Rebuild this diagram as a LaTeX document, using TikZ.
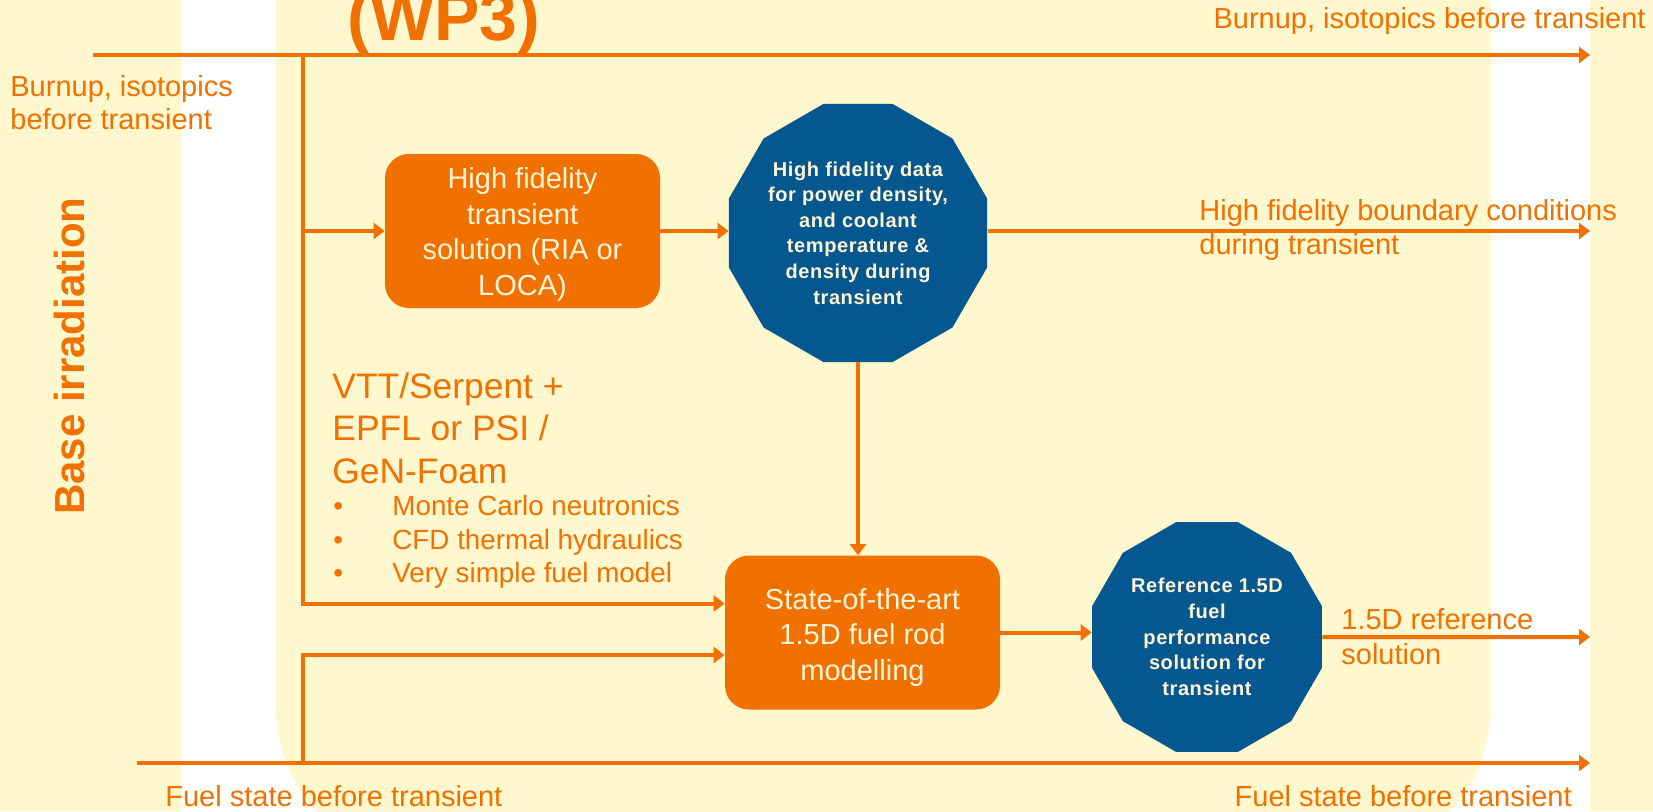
\documentclass[tikz,border=0pt]{standalone}
\usepackage{fontspec}
\setmainfont{Liberation Sans}
\newfontfamily\octfont[LetterSpace=3]{Liberation Sans}
\usetikzlibrary{arrows.meta,shapes.geometric,calc}
\definecolor{org}{HTML}{F07000}
\definecolor{blu}{HTML}{04588F}
\definecolor{bgy}{HTML}{FFF7CE}
\definecolor{crm}{HTML}{FFF5D6}
\begin{document}
\begin{tikzpicture}[x=0.5pt,y=-0.5pt,
  conn/.style={draw=org,line width=2pt,-{Triangle[length=5.5pt,width=8pt]}},
  obox/.style={fill=org,rounded corners=12pt,minimum width=137.5pt,minimum height=77pt,inner sep=0pt},
  boxtext/.style={inner sep=0pt,text=crm,align=center,font=\fontsize{14.5pt}{17.8pt}\selectfont},
  oct/.style={regular polygon,regular polygon sides=12,fill=blu,inner sep=0pt,text=crm,align=center,font=\octfont\bfseries\fontsize{10pt}{12.8pt}\selectfont},
  lab/.style={text=org,inner sep=0pt,font=\fontsize{14.5pt}{16.5pt}\selectfont}
]
\useasboundingbox (0,0) rectangle (1653,811);
\clip (0,0) rectangle (1653,811);
% background
\fill[bgy] (0,0) rectangle (181,811);
\fill[bgy] (1590,0) rectangle (1653,811);
\fill[bgy,rounded corners=80pt] (276,-300) rectangle (1491,865);

% texts
\node[font=\bfseries\fontsize{34pt}{40pt}\selectfont,text=org,anchor=base,inner sep=0pt] (wp) at (444,40) {(WP3)};
\node[lab,anchor=west,align=left] (bl1) at (10,103) {Burnup, isotopics\\before transient};
\node[lab,anchor=east] (tr1) at (1646,21) {Burnup, isotopics before transient};
\node[lab,anchor=west,align=left,font=\fontsize{14.5pt}{17pt}\selectfont] (hfbc) at (1199,230) {High fidelity boundary conditions\\during transient};
\node[lab,anchor=west,align=left,font=\fontsize{14.5pt}{17.5pt}\selectfont] (refsol) at (1341,637) {1.5D reference\\solution};
\node[lab,anchor=west] (fsl) at (165,796) {Fuel state before transient};
\node[lab,anchor=east] (fsr) at (1572,796) {Fuel state before transient};
\node[text=org,anchor=west,align=left,inner sep=0pt,font=\fontsize{17.7pt}{21.25pt}\selectfont] (vtt) at (332,428) {VTT/Serpent +\\EPFL or PSI /\\GeN-Foam};
\node[text=org,anchor=west,align=left,inner sep=0pt,font=\fontsize{13.9pt}{16.75pt}\selectfont] (bul) at (333,542) {\makebox[29.5pt][l]{•}Monte Carlo neutronics\\\makebox[29.5pt][l]{•}CFD thermal hydraulics\\\makebox[29.5pt][l]{•}Very simple fuel model};
\node[rotate=90,text=org,inner sep=0pt,font=\bfseries\fontsize{21pt}{24pt}\selectfont] (base) at (69,356) {Base irradiation};

% boxes
\node[obox] (hf) at (522.5,231) {};
\node[boxtext] (hft) at ([yshift=-1.8pt]hf.center) {High fidelity\\transient\\solution (RIA or\\LOCA)};
\node[obox] (st) at (862.5,632.5) {};
\node[boxtext] (stt) at ([yshift=-2.4pt]st.center) {State-of-the-art\\1.5D fuel rod\\modelling};
\node[oct,minimum size=133.6pt] (o1) at (858,233) {High fidelity data\\for power density,\\and coolant\\temperature \&\\density during\\transient};
\node[oct,minimum size=119pt] (o2) at (1207,637) {Reference 1.5D\\fuel\\performance\\solution for\\transient};

% connectors
\coordinate (tl) at (93,55);
\coordinate (tre) at (1590,55);
\coordinate (vt) at (303,55);
\coordinate (r1) at (1590,231);
\coordinate (bl) at (137,763);
\coordinate (br) at (1590,763);
\coordinate (vb) at (303,763);
\coordinate (r2) at (1590,637);
\draw[conn] (tl) -- (tre);
\draw[conn] (vt) |- ([yshift=14.5pt]st.west);
\draw[conn] (vt |- hf.west) -- (hf.west);
\draw[conn] (hf.east) -- (hf.east -| o1.west);
\draw[conn] (o1.east |- hf.east) -- (r1);
\draw[conn] (o1.south) -- (o1.south |- st.north);
\draw[conn] (bl) -- (br);
\draw[conn] (vb) |- ([yshift=-11.25pt]st.west);
\draw[conn] (st.east) -- (st.east -| o2.west);
\draw[conn] (o2.east) -- (r2);
\end{tikzpicture}
\end{document}
